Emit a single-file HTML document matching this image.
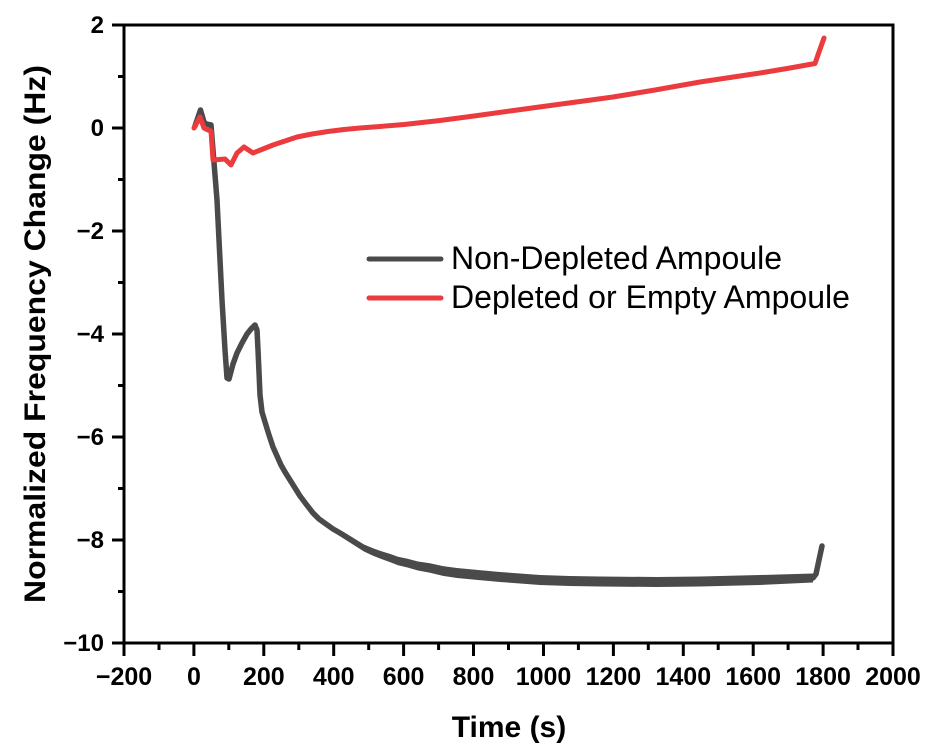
<!DOCTYPE html>
<html><head><meta charset="utf-8"><style>html,body{margin:0;padding:0;background:#fff;}svg{display:block;}</style></head>
<body>
<svg width="939" height="752" viewBox="0 0 939 752" xmlns="http://www.w3.org/2000/svg" font-family="'Liberation Sans', Arial, sans-serif">
<rect width="939" height="752" fill="#fff"/>
<!-- black curve -->
<polyline fill="none" stroke="#4a4a4a" stroke-width="5.5" stroke-linejoin="round" stroke-linecap="round" points="195,126 200.5,110 204,122 206,124 211,125 213,150 217,200 222,300 225,350 227,378 229,379 233,364 237,353 242,343 247,334 251,329 255,325 257,330 258,350 259,372 260,395 262,412 265,422 269,435 273,447 277,456 281,465 285,472 290,480 295,488 300,496 306,504 313,513 319,519 326,524 333,529 340,533 348,538 356,543 364,548 373,552 381,555 390,558 398,561 407,563 418,566 430,568 443,571 457,573 478,575 500,577 520,578.5 540,580 570,581 600,581.5 657,582 700,581.5 760,580 813,578 816,574 819,560 822,546"/>
<polygon fill="#4a4a4a" points="326,521.25 333,526.1 340,530 348,534.8 356,539.6 364,544.45 373,548.25 381,551.1 390,553.9 398,556.75 407,558.6 418,561.45 430,563.3 443,566.15 457,568 478,570 500,572 520,573.5 540,575 570,576 600,576.5 657,577 700,576.5 760,575 813,573.5 813,582.5 760,585 700,586.5 657,587 600,586.5 570,586 540,585 520,583.5 500,582 478,580 457,578 443,575.85 430,572.7 418,570.55 407,567.4 398,565.25 390,562.1 381,558.9 373,555.75 364,551.55 356,546.4 348,541.2 340,536 333,531.9 326,526.75"/>
<!-- red curve -->
<polyline fill="none" stroke="#ec3b3e" stroke-width="5" stroke-linejoin="round" stroke-linecap="round" points="194,128 200,117 204,128 208,130 211,131 213,160 225,159 231,165 237,153 244,147 253,153 263,149 273,145 285,141 297,137 312,134 328,131.5 344,129.5 360,128 380,126.5 404,124.5 440,120.5 474,116 510,111 543,106.5 580,101.5 613,97 655,90 700,82 730,77.5 760,73 790,68 815,63.5 819,52 824,38"/>
<!-- axes frame -->
<rect x="124" y="25" width="769" height="618" fill="none" stroke="#000" stroke-width="3"/>
<g stroke="#000" stroke-width="3">
<line x1="112" y1="25" x2="124" y2="25"/>
<line x1="112" y1="128" x2="124" y2="128"/>
<line x1="112" y1="231" x2="124" y2="231"/>
<line x1="112" y1="334" x2="124" y2="334"/>
<line x1="112" y1="437" x2="124" y2="437"/>
<line x1="112" y1="540" x2="124" y2="540"/>
<line x1="112" y1="643" x2="124" y2="643"/>
<line x1="118" y1="76.5" x2="124" y2="76.5"/>
<line x1="118" y1="179.5" x2="124" y2="179.5"/>
<line x1="118" y1="282.5" x2="124" y2="282.5"/>
<line x1="118" y1="385.5" x2="124" y2="385.5"/>
<line x1="118" y1="488.5" x2="124" y2="488.5"/>
<line x1="118" y1="591.5" x2="124" y2="591.5"/>
<line x1="124" y1="643" x2="124" y2="656"/>
<line x1="193.9" y1="643" x2="193.9" y2="656"/>
<line x1="263.8" y1="643" x2="263.8" y2="656"/>
<line x1="333.7" y1="643" x2="333.7" y2="656"/>
<line x1="403.6" y1="643" x2="403.6" y2="656"/>
<line x1="473.5" y1="643" x2="473.5" y2="656"/>
<line x1="543.5" y1="643" x2="543.5" y2="656"/>
<line x1="613.4" y1="643" x2="613.4" y2="656"/>
<line x1="683.3" y1="643" x2="683.3" y2="656"/>
<line x1="753.2" y1="643" x2="753.2" y2="656"/>
<line x1="823.1" y1="643" x2="823.1" y2="656"/>
<line x1="893" y1="643" x2="893" y2="656"/>
<line x1="159" y1="643" x2="159" y2="650"/>
<line x1="228.8" y1="643" x2="228.8" y2="650"/>
<line x1="298.8" y1="643" x2="298.8" y2="650"/>
<line x1="368.7" y1="643" x2="368.7" y2="650"/>
<line x1="438.6" y1="643" x2="438.6" y2="650"/>
<line x1="508.5" y1="643" x2="508.5" y2="650"/>
<line x1="578.4" y1="643" x2="578.4" y2="650"/>
<line x1="648.3" y1="643" x2="648.3" y2="650"/>
<line x1="718.2" y1="643" x2="718.2" y2="650"/>
<line x1="788.1" y1="643" x2="788.1" y2="650"/>
<line x1="858" y1="643" x2="858" y2="650"/>
</g>
<g font-size="24" font-weight="bold" text-anchor="end" fill="#000">
<text x="104" y="33">2</text>
<text x="104" y="136">0</text>
<text x="104" y="239">−2</text>
<text x="104" y="342">−4</text>
<text x="104" y="445">−6</text>
<text x="104" y="548">−8</text>
<text x="104" y="651">−10</text>
</g>
<g font-size="25" font-weight="bold" text-anchor="middle" fill="#000">
<text x="124" y="685">−200</text>
<text x="193.9" y="685">0</text>
<text x="263.8" y="685">200</text>
<text x="333.7" y="685">400</text>
<text x="403.6" y="685">600</text>
<text x="473.5" y="685">800</text>
<text x="543.5" y="685">1000</text>
<text x="613.4" y="685">1200</text>
<text x="683.3" y="685">1400</text>
<text x="753.2" y="685">1600</text>
<text x="823.1" y="685">1800</text>
<text x="893" y="685">2000</text>
</g>
<text x="509" y="737" font-size="30" font-weight="bold" text-anchor="middle" fill="#000">Time (s)</text>
<text transform="translate(45,603) rotate(-90)" x="0" y="0" font-size="30" font-weight="bold" fill="#000" textLength="538" lengthAdjust="spacingAndGlyphs">Normalized Frequency Change (Hz)</text>
<line x1="369" y1="259" x2="441" y2="259" stroke="#4a4a4a" stroke-width="5" stroke-linecap="round"/>
<line x1="369" y1="298" x2="441" y2="298" stroke="#ec3b3e" stroke-width="5" stroke-linecap="round"/>
<text x="451" y="269" font-size="32" fill="#000" textLength="331" lengthAdjust="spacingAndGlyphs">Non-Depleted Ampoule</text>
<text x="451" y="308" font-size="32" fill="#000" textLength="399" lengthAdjust="spacingAndGlyphs">Depleted or Empty Ampoule</text>
</svg>
</body></html>
